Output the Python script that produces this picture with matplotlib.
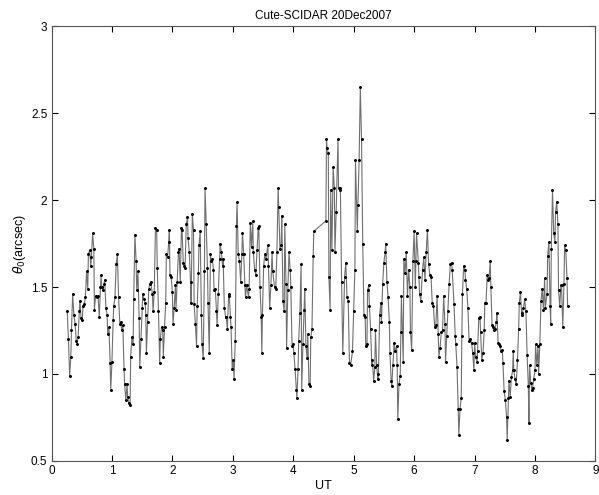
import numpy as np
import matplotlib.pyplot as plt

plt.rcParams['font.family'] = ['Liberation Sans', 'DejaVu Sans']

# UT (hours) and seeing theta_0 (arcsec) in pieces
ut1 = [0.26,0.28,0.30,0.32,0.33,0.35,0.37,0.39,0.41,0.42,0.44,0.46,0.47,0.49,0.51,0.52,0.54,0.56,0.58,0.60,
       0.61,0.63,0.65,0.66,0.68,0.70,0.71,0.73,0.75,0.77,0.79,0.81,0.82,0.83,0.85,0.87,0.88,0.90,0.92,0.93,
       0.95,0.97,0.98,1.00,1.02,1.03,1.05,1.07,1.09,1.11,1.13,1.15,1.16,1.18,1.20,1.21,1.23,1.25,1.26,1.28,
       1.30,1.31,1.33,1.35,1.36,1.38,1.40,1.41,1.43,1.45,1.46,1.48,1.50,1.51,1.53,1.55]
th1 = [1.36,1.20,0.99,1.10,1.25,1.46,1.34,1.29,1.19,1.17,1.21,1.36,1.42,1.32,1.31,1.39,1.40,1.44,1.59,1.49,
       1.69,1.71,1.62,1.67,1.81,1.72,1.37,1.45,1.44,1.45,1.33,1.50,1.57,1.50,1.48,1.52,1.54,1.38,1.34,1.23,
       1.27,1.06,0.91,1.07,1.31,1.39,1.44,1.63,1.69,1.44,1.29,1.30,1.25,1.28,1.03,0.94,0.85,0.94,0.87,0.83,
       0.82,1.10,1.21,1.17,1.43,1.80,1.65,1.48,1.59,1.32,1.04,1.20,1.38,1.46,1.43,1.41]

ut2 = [1.56,1.57,1.59,1.61,1.63,1.64,1.67,1.68,1.70,1.72,1.74,1.75,1.77,1.79,1.80,1.82,1.84,1.85,1.87,1.89,
       1.90,1.92,1.94,1.95,1.96,1.98,2.00,2.01,2.03,2.05,2.06,2.08,2.10,2.11,2.13,2.15,2.16,2.18,2.20,2.21,
       2.23,2.25,2.26,2.28,2.30,2.31,2.33,2.35,2.36,2.38,2.40,2.41,2.43,2.44,2.46,2.48,2.49,2.51,2.53,2.54,
       2.56,2.58,2.59,2.61,2.63,2.64,2.66,2.68,2.69,2.71,2.73,2.74,2.76,2.78,2.79,2.81,2.83,2.84,2.86,2.88,
       2.89,2.91,2.93,2.94,2.96,2.97,2.99,3.01,3.02,3.04,3.06,3.07,3.09]
th2 = [1.34,1.12,1.30,1.49,1.52,1.53,1.46,1.36,1.47,1.84,1.83,1.61,1.36,1.06,1.20,1.27,1.25,1.10,1.27,1.41,
       1.69,1.67,1.76,1.83,1.57,1.56,1.47,1.29,1.38,1.51,1.37,1.53,1.70,1.72,1.53,1.84,1.83,1.64,1.62,1.61,
       1.86,1.90,1.78,1.70,1.53,1.41,1.92,1.83,1.40,1.29,1.16,1.39,1.58,1.74,1.82,1.34,1.17,1.09,1.59,2.07,
       1.86,1.61,1.41,1.12,1.69,1.65,1.66,1.60,1.48,1.49,1.36,1.28,1.46,1.66,1.75,1.70,1.62,1.66,1.38,1.33,
       1.33,1.26,1.45,1.46,1.33,1.27,1.03,1.08,0.97,1.19,1.85,1.99,1.69]

ut3 = [3.11,3.13,3.15,3.16,3.18,3.20,3.21,3.23,3.26,3.27,3.29,3.31,3.33,3.34,3.36,3.38,3.40,3.42,3.43,3.45,
       3.47,3.48,3.49,3.51,3.53,3.55,3.58,3.59,3.61,3.63,3.65,3.66,3.69,3.71,3.73,3.75,3.76,3.78,3.80,3.81,
       3.83,3.85,3.86,3.88,3.89,3.91,3.93,3.95,3.96,3.98,4.00,4.01,4.03,4.05,4.06,4.08,4.09,4.11,4.13,4.14,
       4.16,4.18,4.19,4.21,4.23,4.24,4.26,4.28,4.29,4.31,4.33,4.34]
th3 = [1.65,1.53,1.69,1.81,1.69,1.51,1.44,1.51,1.44,1.49,1.87,1.73,1.88,1.70,1.60,1.57,1.71,1.84,1.85,1.50,
       1.33,1.12,1.34,1.62,1.69,1.66,1.74,1.62,1.38,1.51,1.70,1.59,1.50,1.49,1.70,2.07,1.96,1.72,1.74,1.91,
       1.42,1.36,1.86,1.52,1.15,1.48,1.70,1.60,1.50,1.16,1.17,1.12,1.03,0.91,0.86,1.03,1.19,1.35,1.63,0.91,
       1.17,1.37,1.49,1.16,1.09,1.23,0.94,0.93,1.21,1.26,1.68,1.82]

ut4 = [4.54,4.55,4.56,4.58,4.59,4.61,4.62,4.64,4.66,4.68,4.69,4.71,4.74,4.75,4.77,4.78,4.80,4.82,4.85,4.87,
       4.89,4.91,4.93,4.95,4.98,5.00,5.02,5.03,5.06,5.07,5.09,5.11,5.13,5.15,5.17,5.19,5.20,5.22,5.23,5.25,
       5.26,5.28,5.30,5.31,5.33,5.35,5.36,5.38,5.40,5.41,5.43,5.45,5.46,5.48,5.50,5.52,5.53,5.55,5.57,5.59,
       5.60,5.62,5.63,5.65,5.67,5.68,5.71,5.72,5.73,5.75,5.77,5.78,5.79,5.82,5.83,5.85,5.87,5.89,5.91,5.93,
       5.94,5.96,5.98,6.00,6.02,6.03,6.04,6.07,6.08]
th4 = [1.88,2.35,2.30,2.27,1.56,1.37,2.06,1.71,2.19,2.07,1.70,1.93,2.35,2.07,2.07,2.06,1.53,1.12,1.56,1.64,
       1.44,1.42,1.06,1.05,1.13,1.36,1.60,2.23,1.82,1.97,2.23,2.65,2.35,1.75,1.34,1.33,1.16,1.17,1.48,1.51,
       1.39,1.26,1.05,1.08,0.96,1.04,1.25,1.05,0.97,1.00,1.34,1.41,1.30,1.52,1.64,1.70,1.75,1.53,1.44,1.30,
       1.12,0.96,0.93,1.05,1.18,1.13,1.16,1.05,0.74,0.94,0.99,1.24,1.45,1.07,1.66,1.58,1.70,1.45,1.60,1.50,
       1.24,1.14,1.65,1.82,1.50,1.65,1.81,1.64,1.56]

ut5 = [6.09,6.11,6.14,6.16,6.18,6.20,6.22,6.24,6.26,6.28,6.30,6.32,6.34,6.36,6.38,6.40,6.41,6.43,6.45,6.47,
       6.49,6.51,6.52,6.54,6.56,6.58,6.60,6.62,6.63,6.66,6.68,6.69,6.71,6.73,6.74,6.76,6.78,6.79,6.80,6.82,
       6.84,6.85,6.87,6.89,6.91,6.93,6.95,6.97,6.99,7.00,7.02,7.04,7.05,7.07,7.09,7.10,7.12,7.14,7.16,7.17,
       7.19,7.21,7.22,7.24,7.26,7.27,7.29,7.31,7.32,7.34,7.36,7.37,7.39,7.41,7.42,7.44,7.46,7.47,7.49,7.51,
       7.53,7.54,7.56,7.57]
th5 = [1.46,1.42,1.60,1.67,1.54,1.70,1.83,1.63,1.57,1.56,1.41,1.39,1.27,1.28,1.45,1.23,1.10,1.15,1.24,1.25,
       1.45,1.29,1.07,1.22,1.36,1.52,1.63,1.64,1.60,1.40,1.22,1.17,1.04,0.80,0.65,0.80,0.86,1.22,1.46,1.62,
       1.60,1.54,1.49,1.38,1.19,1.20,1.18,1.12,1.02,1.18,1.10,1.07,1.13,1.32,1.33,1.24,1.08,1.12,1.25,1.41,
       1.41,1.57,1.54,1.55,1.65,1.50,1.28,1.27,1.25,1.26,1.30,1.35,1.18,1.17,1.16,1.13,1.14,1.06,0.90,0.85,
       0.75,0.62,0.86,0.96]

ut6 = [7.59,7.61,7.63,7.64,7.65,7.67,7.69,7.71,7.73,7.74,7.76,7.78,7.79,7.81,7.83,7.85,7.87,7.89,7.90,7.91,
       7.93,7.95,7.96,7.98,8.00,8.01,8.03,8.05,8.06,8.08,8.10,8.12,8.14,8.16,8.17,8.20,8.21,8.23,8.25,8.26,
       8.27,8.29,8.31,8.33,8.34,8.36,8.38,8.39,8.41,8.43,8.44,8.46,8.48,8.49,8.51,8.53,8.54]
th6 = [0.87,0.98,1.02,1.13,1.02,0.97,0.94,1.08,1.26,1.41,1.47,1.34,1.35,1.38,1.43,1.36,1.11,0.93,0.72,1.05,
       0.95,0.91,0.92,0.97,1.02,1.17,1.05,1.16,1.00,1.17,1.42,1.49,1.37,1.55,1.38,1.46,1.68,1.76,1.39,1.29,
       1.72,2.06,1.81,1.76,1.93,1.99,1.86,1.48,1.39,1.51,1.51,1.27,1.52,1.74,1.71,1.55,1.39]

ut = np.concatenate([ut1, ut2, ut3, ut4, ut5, ut6])
theta = np.concatenate([th1, th2, th3, th4, th5, th6])

fig = plt.figure(figsize=(5.99, 4.95), dpi=100)
ax = fig.add_axes([0.086, 0.069, 0.908, 0.878])

ax.plot(ut, theta, '-', color='#707070', lw=0.8)
ax.plot(ut, theta, '.', color='black', ms=2.3)

ax.set_xlim(0, 9)
ax.set_ylim(0.5, 3)
ax.set_xticks(range(10))
ax.set_yticks([0.5, 1, 1.5, 2, 2.5, 3])
ax.set_yticklabels(['0.5', '1', '1.5', '2', '2.5', '3'])
ax.tick_params(direction='in', top=True, right=True, length=4, labelsize=8.5, pad=3)
for s in ax.spines.values():
    s.set_color('#555555')
    s.set_linewidth(0.8)

ax.set_title('Cute-SCIDAR 20Dec2007', fontsize=8.5, pad=5)
ax.set_xlabel('UT', fontsize=9, labelpad=2)
ax.set_ylabel(r'$\theta_0$(arcsec)', fontsize=9, labelpad=2)

fig.savefig('out.png', dpi=100)
